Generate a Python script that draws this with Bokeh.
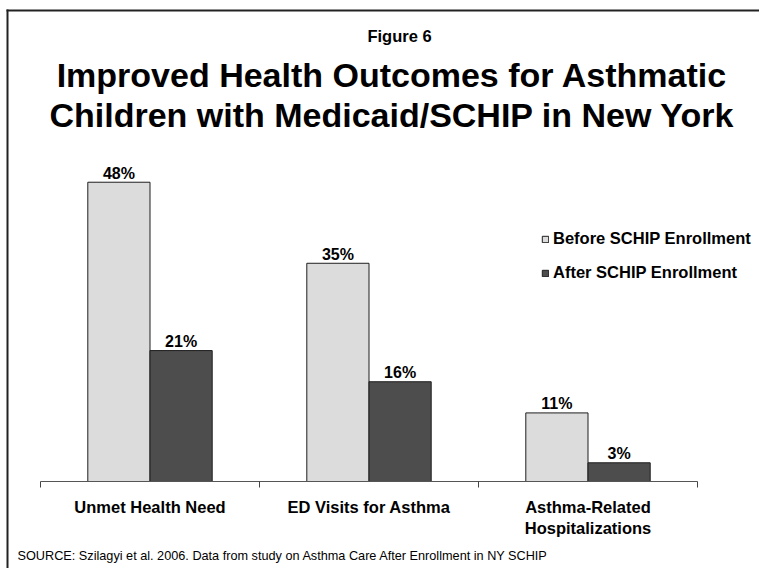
from bokeh.plotting import figure
from bokeh.models import (ColumnDataSource, Range1d, FixedTicker, Label, Legend,
                          LegendItem, BoxAnnotation)
from bokeh.core.properties import value
from bokeh.transform import dodge
from bokeh.embed import file_html
from bokeh.resources import INLINE

# ---------------- data ----------------
categories = ["Unmet Health Need", "ED Visits for Asthma", "Asthma-Related\nHospitalizations"]
before_values = [48, 35, 11]
after_values = [21, 16, 3]
series_names = ["Before SCHIP Enrollment", "After SCHIP Enrollment"]
figure_label = "Figure 6"
title_lines = ["Improved Health Outcomes for Asthmatic",
               "Children with Medicaid/SCHIP in New York"]
source_note = "SOURCE:  Szilagyi et al. 2006.  Data from study on Asthma Care After Enrollment in NY SCHIP"

# ---------------- layout / styles ----------------
W, H = 759, 568
FONT = "Liberation Sans"
LIGHT = "#dcdcdc"
DARK = "#4d4d4d"
EDGE = "#1e1e1e"
BAR_W = 0.284
AXIS_X0, AXIS_X1 = 40, 697      # pixel extent of the category axis
AXIS_Y = 481                    # pixel row of the baseline
PX_PER_PCT = 6.235

n = len(categories)
px_per_cat = (AXIS_X1 - AXIS_X0) / n
x_range = Range1d(-AXIS_X0 / px_per_cat, n + (W - AXIS_X1) / px_per_cat)
y_range = Range1d(-(H - AXIS_Y) / PX_PER_PCT, AXIS_Y / PX_PER_PCT)

def sy(Y):            # page row (from top) -> screen units (from bottom)
    return H - Y

pos = [i + 0.5 for i in range(n)]
src = ColumnDataSource(dict(
    x=pos,
    before=before_values,
    after=after_values,
    before_lbl=[f"{v}%" for v in before_values],
    after_lbl=[f"{v}%" for v in after_values],
))

p = figure(width=W, height=H, output_backend="svg", toolbar_location=None,
           x_range=x_range, y_range=y_range, min_border=0)
p.outline_line_color = None
p.grid.visible = False
p.yaxis.visible = False
p.background_fill_color = "white"
p.border_fill_color = "white"

r_before = p.vbar(x=dodge("x", -BAR_W / 2), top="before", width=BAR_W, source=src,
                  fill_color=LIGHT, line_color=EDGE, line_width=1)
r_after = p.vbar(x=dodge("x", BAR_W / 2), top="after", width=BAR_W, source=src,
                 fill_color=DARK, line_color=EDGE, line_width=1)

for col, lbl, off in (("before", "before_lbl", -BAR_W / 2), ("after", "after_lbl", BAR_W / 2)):
    p.text(x=dodge("x", off), y=col, text=lbl, source=src, text_align="center",
           text_baseline="alphabetic", y_offset=-9, text_font=value(FONT),
           text_font_style="bold", text_font_size="16px", text_color="black")

# x axis drawn at y=0: boundary ticks as minor ticks, category labels at centers
ax = p.xaxis[0]
ax.fixed_location = 0
ax.bounds = (0, n)
ax.ticker = FixedTicker(ticks=pos, minor_ticks=list(range(n + 1)))
ax.major_label_overrides = {v: c for v, c in zip(pos, categories)}
ax.major_tick_in = 0
ax.major_tick_out = 0
ax.minor_tick_in = 0
ax.minor_tick_out = 6
ax.minor_tick_line_color = "#444444"
ax.axis_line_color = "#555555"
ax.axis_line_width = 1
ax.major_label_standoff = 10
ax.major_label_text_font = FONT
ax.major_label_text_font_style = "bold"
ax.major_label_text_font_size = "16.5px"
ax.major_label_text_color = "black"

legend = Legend(items=[LegendItem(label=series_names[0], renderers=[r_before]),
                       LegendItem(label=series_names[1], renderers=[r_after])],
                location=(541, sy(282)), glyph_width=8, glyph_height=8,
                label_standoff=4, spacing=15, padding=0, margin=0,
                border_line_color=None, background_fill_alpha=0,
                label_text_font=FONT, label_text_font_style="bold",
                label_text_font_size="16.5px", label_text_color="black")
p.add_layout(legend)

def add_label(text, X, Y, size, style="bold", align="center", baseline="alphabetic"):
    p.add_layout(Label(x=X, y=sy(Y), x_units="screen", y_units="screen", text=text,
                       text_align=align, text_baseline=baseline, text_font=FONT,
                       text_font_style=style, text_font_size=size, text_color="black"))

add_label(figure_label, 399, 35.5, "16.5px")
add_label(title_lines[0], 391.5, 74, "34px")
add_label(title_lines[1], 391.5, 114, "34px")
add_label(source_note, 17, 555, "12.7px", style="normal", align="left")

# slide frame lines (left and top)
for l, r, t, b in ((6, 8, 9, H + 5), (6, W + 5, 9, 11)):
    p.add_layout(BoxAnnotation(left=l, right=r, top=sy(t), bottom=sy(b),
                               left_units="screen", right_units="screen",
                               top_units="screen", bottom_units="screen",
                               fill_color="#222222", fill_alpha=1, line_color=None))

open("out.html", "w").write(file_html(p, INLINE))
